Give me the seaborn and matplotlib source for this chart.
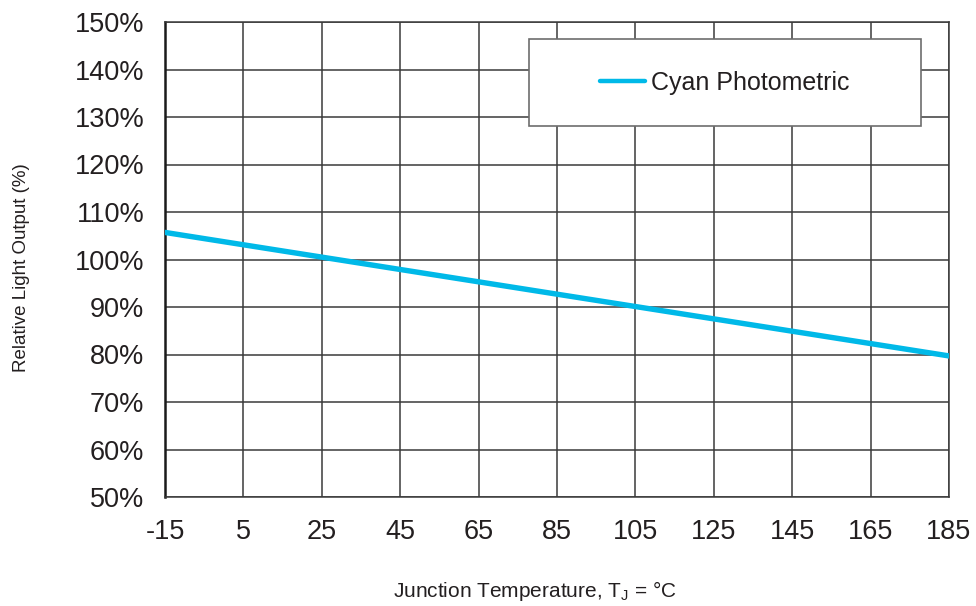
import pandas as pd
import matplotlib.pyplot as plt
import seaborn as sns
from matplotlib.patches import Rectangle
from matplotlib.ticker import FuncFormatter

# values
temperature_c = [-15, 5, 25, 45, 65, 85, 105, 125, 145, 165, 185]
light_output_pct = [105.7, 103.1, 100.5, 97.9, 95.3, 92.7, 90.1, 87.5, 84.9, 82.3, 79.7]
series_name = 'Cyan Photometric'
x_ticks = [-15, 5, 25, 45, 65, 85, 105, 125, 145, 165, 185]
y_ticks = [50, 60, 70, 80, 90, 100, 110, 120, 130, 140, 150]

LINE_COLOR = '#00B9E8'
GRID_COLOR = '#3a3a3a'
TEXT_COLOR = '#231f20'

sns.set_style('white')
plt.rcParams['font.family'] = ['Liberation Sans', 'DejaVu Sans']
plt.rcParams['axes.unicode_minus'] = False

df = pd.DataFrame({'temp': temperature_c, 'output': light_output_pct, 'series': series_name})

fig = plt.figure(figsize=(9.76, 6.06), dpi=100)
ax = fig.add_axes([165 / 976, 1 - 497 / 606, 784 / 976, 475 / 606])

sns.lineplot(data=df, x='temp', y='output', hue='series', palette=[LINE_COLOR],
             linewidth=3.9, ax=ax, legend=False, zorder=3)

ax.set_xlim(-15, 185)
ax.set_ylim(50, 150)
ax.set_xticks(x_ticks)
ax.set_yticks(y_ticks)
ax.xaxis.set_major_formatter(FuncFormatter(lambda v, _: f'{v:.0f}'))
ax.yaxis.set_major_formatter(FuncFormatter(lambda v, _: f'{v:.0f}%'))
ax.grid(True, color=GRID_COLOR, linewidth=1.1, zorder=0)
ax.set_axisbelow(True)

for side, sp in ax.spines.items():
    sp.set_color(GRID_COLOR)
    sp.set_linewidth(1.1)
ax.spines['left'].set_color('#1a1a1a')
ax.spines['left'].set_linewidth(1.8)

ax.tick_params(axis='both', direction='out', length=6, width=1.1, color=GRID_COLOR,
               labelcolor=TEXT_COLOR, labelsize=19.5)
ax.tick_params(axis='y', pad=9)
ax.tick_params(axis='x', pad=10)

ax.set_xlabel('')
ax.set_ylabel('')
fig.text(535 / 976, 1 - 591 / 606, 'Junction Temperature, T$_\\mathregular{J}$ = °C',
         fontsize=15, color=TEXT_COLOR, ha='center', va='center')
fig.text(22 / 976, 1 - 268 / 606, 'Relative Light Output (%)', fontsize=13.5,
         color=TEXT_COLOR, ha='center', va='center', rotation=90)

# legend box drawn as a patch, legend content centred in it
box = Rectangle((0.4643, 0.781), 0.5, 0.1832, transform=ax.transAxes,
                facecolor='white', edgecolor='#6d6d6d', linewidth=1.2, zorder=4)
ax.add_patch(box)
handle = plt.Line2D([], [], color=LINE_COLOR, linewidth=3.2, solid_capstyle='round')
leg = ax.legend([handle], [series_name], loc='center', bbox_to_anchor=(0.7143, 0.8726),
                frameon=False, fontsize=18, handlelength=1.8, handletextpad=0.25,
                borderpad=0)
leg.set_zorder(5)
for t in leg.get_texts():
    t.set_color(TEXT_COLOR)

fig.savefig('out.png', dpi=100)
